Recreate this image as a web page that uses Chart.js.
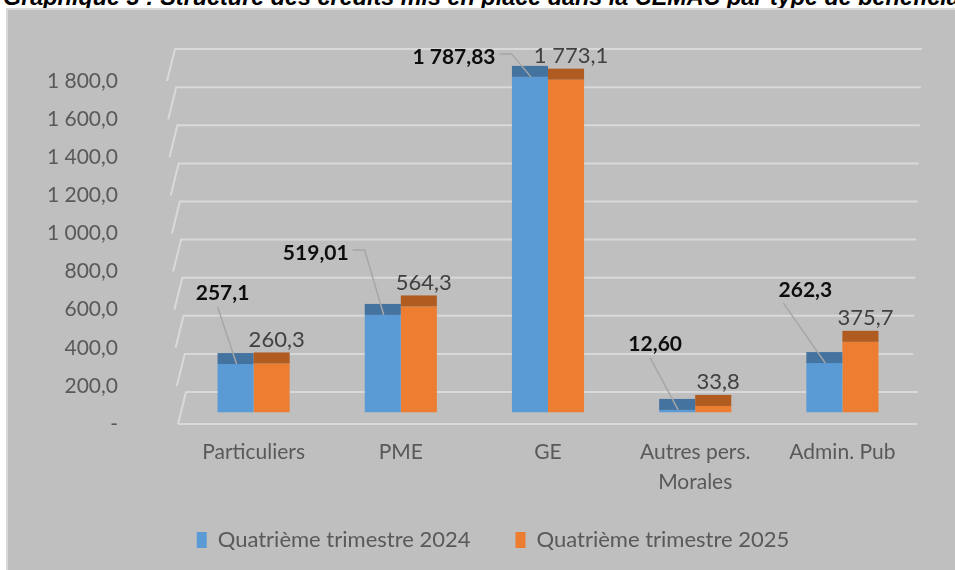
<!DOCTYPE html>
<html>
<head>
<meta charset="utf-8">
<script src="https://cdn.jsdelivr.net/npm/chart.js@4.4.0/dist/chart.umd.min.js"></script>
<style>
  html, body { margin: 0; padding: 0; background: #fff; width: 955px; height: 570px; overflow: hidden; position: relative; }
  #title { position: absolute; left: 3px; top: -16px; white-space: nowrap; font: italic bold 23.4px "Liberation Sans", Arial, sans-serif; line-height: 26px; color: #000; }
  #frame { position: absolute; left: 6px; top: 8px; right: 0; bottom: 0; background: #bfbfbf; border-left: 2px solid #d9d9d9; border-top: 2px solid #d9d9d9; }
  #wrap { position: absolute; left: 0; top: 0; width: 955px; height: 570px; }
</style>
</head>
<body>
<div id="title">Graphique 3 : Structure des crédits mis en place dans la CEMAC par type de bénéficiaires</div>
<div id="frame"></div>
<div id="wrap"><canvas id="chart" width="955" height="570"></canvas></div>
<script>
"use strict";

// chart data
var categories = ["Particuliers", "PME", "GE", ["Autres pers.", "Morales"], "Admin. Pub"];
var seriesNames = ["Quatrième trimestre 2024", "Quatrième trimestre 2025"];
var values2024 = [257.1, 519.01, 1787.83, 12.60, 262.3];
var values2025 = [260.3, 564.3, 1773.1, 33.8, 375.7];
var decimals2024 = [1, 2, 2, 2, 1];      // as printed in the labels
var decimals2025 = [1, 1, 1, 1, 1];
var tickValues = [0, 200, 400, 600, 800, 1000, 1200, 1400, 1600, 1800];

// look
var BLUE = "#5b9bd5", BLUE_TOP = "#44739f";
var ORANGE = "#ed7d31", ORANGE_TOP = "#b05b20";
var GRID = "#d9d9d9";
var FONT = "Lato, 'Open Sans', sans-serif";
var CAP = 11;                      // height of the 3D bar top
// hand placed 2024 labels (dx, dy from bar top) and leader style, like in the source
var moved2024 = [[-13, -60, "line"], [-67, -51, "elbow"], [-76, -9, "elbow"], [-22, -55, "line"], [-19, -62, "line"]];

function fmt(v, d) {
  var parts = v.toFixed(d).split(".");
  parts[0] = parts[0].replace(/\B(?=(\d{3})+(?!\d))/g, " ");
  return parts.join(",");
}

// chart.js clips tick labels to the axis box, we want them free
function noLabelClip(s) {
  s._computeLabelArea = function () { return null; };
}

var grid3d = {
  id: "grid3d",
  beforeDatasetsDraw: function (chart) {
    var ctx = chart.ctx, yl = chart.scales.yl;
    ctx.save();
    ctx.strokeStyle = GRID;
    ctx.lineWidth = 2;
    tickValues.forEach(function (v) {
      var fy = yl.getPixelForValue(v);
      var fx = 178 - 11 * v / 1800;
      var by = fy - 32, bx = fx + 8;
      var rx = v === 0 ? 918 : 912 + 10 * v / 1800;
      ctx.beginPath();
      ctx.moveTo(fx, fy);
      ctx.lineTo(bx, by);
      ctx.lineTo(rx, by);
      if (v === 0) {
        ctx.moveTo(fx, fy);
        ctx.lineTo(917, fy);
      }
      ctx.stroke();
    });
    ctx.restore();
  }
};

var barTops = {
  id: "barTops",
  afterDatasetsDraw: function (chart) {
    var ctx = chart.ctx;
    ctx.save();
    chart.data.datasets.forEach(function (ds, di) {
      var meta = chart.getDatasetMeta(di);
      meta.data.forEach(function (bar, i) {
        var w = bar.width, x0 = bar.x - w / 2, top = bar.y;
        ctx.fillStyle = di === 0 ? BLUE_TOP : ORANGE_TOP;
        ctx.fillRect(x0, top - CAP, w, CAP);
        ctx.textAlign = "center";
        ctx.textBaseline = "middle";
        if (di === 1) {
          ctx.font = "22px " + FONT;
          ctx.fillStyle = "#404040";
          ctx.fillText(fmt(values2025[i], decimals2025[i]), bar.x + 5, top - CAP - 13);
        } else {
          var m = moved2024[i];
          var lx = bar.x + m[0], ly = top - CAP + m[1];
          var txt = fmt(values2024[i], decimals2024[i]);
          ctx.font = "bold 21px " + FONT;
          var tw = ctx.measureText(txt).width;
          // leader line
          ctx.strokeStyle = "#a6a6a6";
          ctx.lineWidth = 1.5;
          ctx.beginPath();
          if (m[2] === "elbow") {
            ctx.moveTo(lx + tw / 2 + 4, ly - 3);
            ctx.lineTo(lx + tw / 2 + 16, ly - 3);
          } else if (i === 4) {
            ctx.moveTo(lx - 22, ly + 13);
          } else {
            ctx.moveTo(lx - 5, ly + 14);
          }
          ctx.lineTo(bar.x + 1, top);
          ctx.stroke();
          ctx.fillStyle = "#0d0d0d";
          ctx.fillText(txt, lx, ly);
        }
      });
    });
    ctx.restore();
  }
};

new Chart(document.getElementById("chart"), {
  type: "bar",
  data: {
    labels: categories,
    datasets: [
      { label: seriesNames[0], data: values2024, backgroundColor: BLUE, yAxisID: "y" },
      { label: seriesNames[1], data: values2025, backgroundColor: ORANGE, yAxisID: "y" }
    ]
  },
  options: {
    responsive: false,
    animation: false,
    layout: { padding: { left: 70, right: 39, top: 66, bottom: 9 } },
    datasets: { bar: { categoryPercentage: 0.49, barPercentage: 1, borderWidth: 0 } },
    scales: {
      x: {
        afterFit: function (s) { s.height = 60; noLabelClip(s); },
        grid: { display: false, drawTicks: false },
        border: { display: false },
        ticks: { padding: 13, color: "#595959", font: { family: FONT, size: 21, lineHeight: 1.45 } }
      },
      y: {
        display: false,
        min: -62.4,
        max: 1800
      },
      yl: {
        position: "left",
        min: 0,
        max: 1834,
        afterBuildTicks: function (s) { s.ticks = tickValues.map(function (v) { return { value: v }; }); },
        afterFit: function (s) { s.width = 110; noLabelClip(s); },
        grid: { display: false, drawTicks: false },
        border: { display: false },
        ticks: {
          padding: 62,
          color: "#595959",
          font: { family: FONT, size: 21 },
          callback: function (v) { return v === 0 ? "-" : fmt(v, 1); }
        }
      }
    },
    plugins: {
      legend: {
        position: "bottom",
        labels: { boxWidth: 10, boxHeight: 16, padding: 45, color: "#595959", font: { family: FONT, size: 22 } }
      },
      tooltip: { enabled: false }
    }
  },
  plugins: [grid3d, barTops]
});
</script>
</body>
</html>
